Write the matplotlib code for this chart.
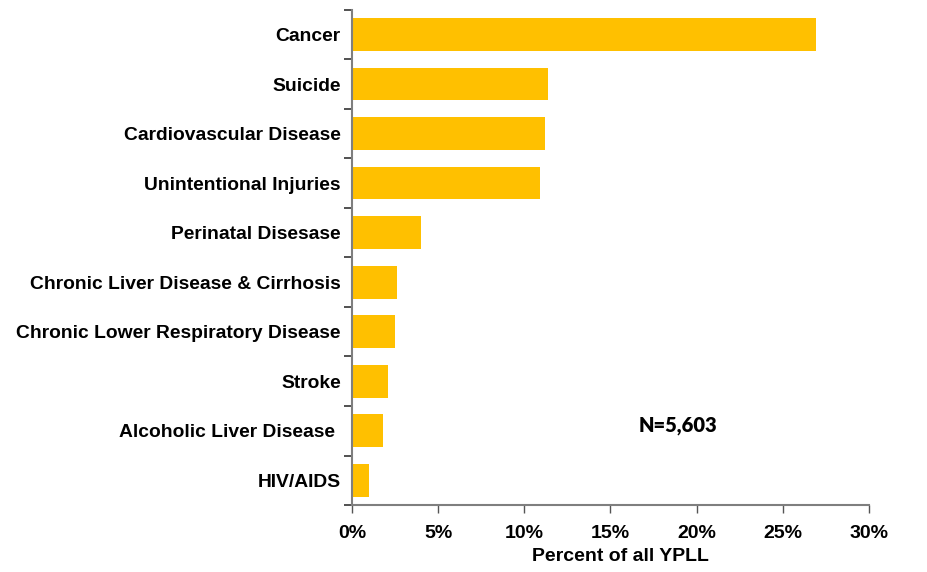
import numpy as np
import matplotlib.pyplot as plt
from matplotlib.ticker import FixedLocator, PercentFormatter

# ----- data -----
causes = ["Cancer", "Suicide", "Cardiovascular Disease", "Unintentional Injuries",
          "Perinatal Disesase", "Chronic Liver Disease & Cirrhosis",
          "Chronic Lower Respiratory Disease", "Stroke", "Alcoholic Liver Disease ",
          "HIV/AIDS"]
pct_ypll = [26.9, 11.4, 11.2, 10.9, 4.0, 2.6, 2.5, 2.1, 1.8, 1.0]
x_ticks = [0, 5, 10, 15, 20, 25, 30]
note = "N=5,603"

plt.rcParams['font.family'] = ['Liberation Sans', 'DejaVu Sans']

fig = plt.figure(figsize=(9.27, 5.72), dpi=100)
ax = fig.add_axes([0.3797, 0.117, 0.5577, 0.866])

ypos = np.arange(len(causes))
ax.barh(ypos, pct_ypll, height=0.66, color='#FFC000')

ax.set_ylim(len(causes) - 0.5, -0.5)
ax.set_xlim(0, 30)

# category labels at centre, tick marks at the boundaries
ax.set_yticks(ypos)
ax.set_yticklabels(causes, fontsize=13.9, fontweight='bold')
ax.tick_params(axis='y', which='major', length=0, pad=8)
ax.yaxis.set_minor_locator(FixedLocator(np.arange(-0.5, len(causes), 1.0)))
ax.tick_params(axis='y', which='minor', length=6, width=1.2, color='#333333', direction='out')

ax.set_xticks(x_ticks)
ax.xaxis.set_major_formatter(PercentFormatter(decimals=0))
ax.tick_params(axis='x', length=6, width=1, color='#555555', labelsize=14, pad=8)
for lbl in ax.get_xticklabels():
    lbl.set_fontweight('bold')
ax.set_xlabel("Percent of all YPLL", fontsize=14, fontweight='bold', labelpad=5)
ax.xaxis.label.set_x(0.519)

for s in ['top', 'right']:
    ax.spines[s].set_visible(False)
for s in ['left', 'bottom']:
    ax.spines[s].set_color('#7f7f7f')
    ax.spines[s].set_linewidth(1.5)

ax.text(0.631, 0.161, note, transform=ax.transAxes, ha='center', va='center',
        fontsize=14.5, fontweight='heavy', family=['Lato', 'DejaVu Sans'])

plt.savefig("out.png", dpi=100)
